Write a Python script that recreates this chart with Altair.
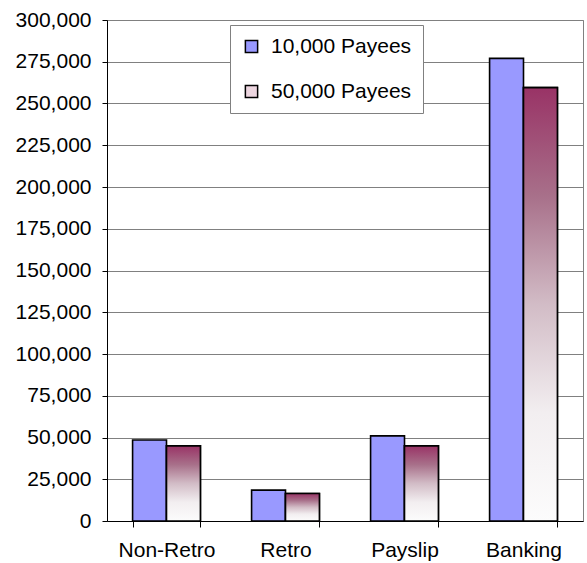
import altair as alt
import pandas as pd

categories = ["Non-Retro", "Retro", "Payslip", "Banking"]
series = ["10,000 Payees", "50,000 Payees"]
payees_10k = [48500, 18500, 51000, 277000]
payees_50k = [45000, 16500, 45000, 259500]
y_ticks = list(range(0, 300001, 25000))

rows = []
for c, a, b in zip(categories, payees_10k, payees_50k):
    rows.append({"category": c, "series": series[0], "value": a})
    rows.append({"category": c, "series": series[1], "value": b})
df = pd.DataFrame(rows)

FONT = "Liberation Sans"
FS = 21

x_enc = alt.X(
    "category:N",
    sort=categories,
    scale=alt.Scale(paddingInner=0.43, paddingOuter=0.215),
    axis=alt.Axis(
        title=None, labelAngle=0, labelFontSize=FS, labelFont=FONT, labelColor="black",
        tickBand="extent", tickColor="black", tickSize=6, domainColor="black",
        labelPadding=12, grid=False,
    ),
)
xo_enc = alt.XOffset(
    "series:N", sort=series,
    scale=alt.Scale(domain=series, paddingInner=0, paddingOuter=0),
)
y_enc = alt.Y(
    "value:Q",
    scale=alt.Scale(domain=[0, 300000], nice=False),
    axis=alt.Axis(
        title=None, values=y_ticks, format=",.0f", labelFontSize=FS, labelFont=FONT,
        labelColor="black", tickColor="black", tickSize=5, domainColor="black",
        labelPadding=11, gridColor="#808080", gridWidth=1,
    ),
)

base = alt.Chart(df).encode(x=x_enc, xOffset=xo_enc, y=y_enc)

bars = base.mark_bar(stroke="black", strokeWidth=1.6).encode(
    color=alt.Color(
        "series:N",
        scale=alt.Scale(domain=series, range=["#9999FF", "#EDD6E0"]),
        legend=alt.Legend(
            title=None, orient="none", legendX=123, legendY=5,
            labelFontSize=FS, labelFont=FONT, labelColor="black",
            symbolType="square", symbolSize=150, symbolStrokeColor="black",
            symbolStrokeWidth=1.5, symbolOpacity=1, labelOffset=9,
            rowPadding=23, padding=11, strokeColor="#808080", fillColor="white",
        ),
    )
)

grad_bars = base.transform_filter(alt.datum.series == series[1]).mark_bar(
    stroke="black", strokeWidth=1.6,
    fill=alt.Gradient(
        gradient="linear",
        stops=[
            alt.GradientStop(color="#993366", offset=0),
            alt.GradientStop(color="#A8708A", offset=0.25),
            alt.GradientStop(color="#D2BCC6", offset=0.5),
            alt.GradientStop(color="#F2EEF0", offset=0.75),
            alt.GradientStop(color="#FCFCFC", offset=1),
        ],
        x1=0, x2=0, y1=0, y2=1,
    ),
)

chart = (
    alt.layer(bars, grad_bars)
    .properties(
        width=476, height=501,
        autosize=alt.AutoSizeParams(type="none"),
        padding={"left": 107, "top": 20, "right": 4, "bottom": 42},
        background="white",
    )
    .configure_view(stroke="#808080", strokeWidth=1)
)

chart.save("out.html", embed_options={"renderer": "svg", "actions": False})
